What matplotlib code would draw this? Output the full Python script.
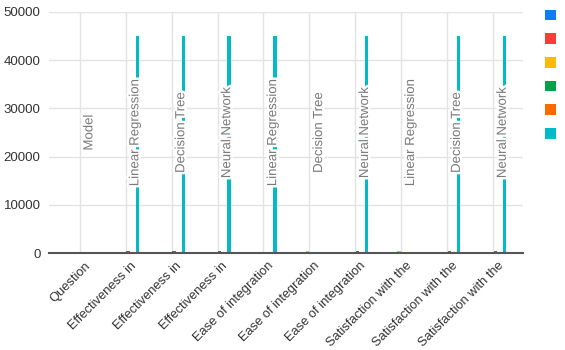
import matplotlib
matplotlib.use("Agg")
import matplotlib.pyplot as plt
import matplotlib.patheffects as pe
from matplotlib.patches import Patch
import numpy as np

plt.rcParams["font.family"] = ["Liberation Sans", "DejaVu Sans"]

# ── Data ─────────────────────────────────────────────────────
categories = [
    "Question",
    "Effectiveness in", "Effectiveness in", "Effectiveness in",
    "Ease of integration", "Ease of integration", "Ease of integration",
    "Satisfaction with the", "Satisfaction with the", "Satisfaction with the",
]
models = [
    "Model",
    "Linear Regression", "Decision Tree", "Neural Network",
    "Linear Regression", "Decision Tree", "Neural Network",
    "Linear Regression", "Decision Tree", "Neural Network",
]
blue_vals = [0, 0, 0, 0, 0, 0, 0, 0, 0, 0]
red_vals = [0, 300, 300, 250, 300, 300, 300, 300, 300, 300]
yellow_vals = [0, 300, 300, 300, 200, 450, 300, 450, 300, 300]
green_vals = [0, 450, 450, 400, 300, 300, 400, 300, 450, 400]
orange_vals = [0, 250, 250, 250, 200, 200, 250, 200, 250, 250]
cyan_vals = [0, 45000, 45000, 45000, 45000, 0, 45000, 0, 45000, 45000]

series = [blue_vals, red_vals, yellow_vals, green_vals, orange_vals, cyan_vals]
colors = ["#0f7cf7", "#fb3d36", "#fdbb00", "#00a149", "#ff6a00", "#00bac8"]

# ── Figure ───────────────────────────────────────────────────
fig = plt.figure(figsize=(5.65, 3.5), dpi=100)
ax = fig.add_axes([0.0867, 0.277, 0.839, 0.689])

x = np.arange(len(categories))
step = 0.1
width = 0.07
for j, (vals, color) in enumerate(zip(series, colors)):
    ax.bar(x + (j - 2.5) * step, vals, width=width, color=color, zorder=2)

# model annotations over the cyan series
for i, label in enumerate(models):
    ax.text(
        x[i] + 2.5 * step - 0.04, 25000, label,
        rotation=90, ha="center", va="center",
        fontsize=9.5, color="#7a7a7a", zorder=3,
        path_effects=[pe.withStroke(linewidth=3.5, foreground="white")],
    )

ax.set_xlim(-0.67, 9.65)
ax.set_ylim(0, 50000)
ax.set_yticks(np.arange(0, 50001, 10000))
# major ticks carry the vertical gridlines, minor ticks carry the labels
ax.set_xticks(x)
ax.set_xticklabels([])
ax.set_xticks(x + 0.09, minor=True)
ax.set_xticklabels(categories, minor=True, rotation=45, ha="right",
                   rotation_mode="anchor", fontsize=9.3, color="#333333")
ax.tick_params(axis="y", labelsize=9.5, labelcolor="#333333", length=0, pad=6)
ax.tick_params(axis="x", which="both", length=0)
ax.tick_params(axis="x", which="minor", pad=5)

ax.grid(True, which="major", color="#e3e3e3", linewidth=1, zorder=0)
ax.set_axisbelow(True)
for side in ["top", "right", "left"]:
    ax.spines[side].set_visible(False)
ax.spines["bottom"].set_color("#555555")
ax.spines["bottom"].set_linewidth(1.5)
ax.spines["bottom"].set_zorder(4)

handles = [Patch(facecolor=c, edgecolor="none") for c in colors]
fig.legend(handles, [" "] * 6, loc="upper left", bbox_to_anchor=(0.952, 0.995),
           frameon=False, handlelength=0.8, handleheight=0.8,
           labelspacing=0.7, fontsize=10, handletextpad=0.2, borderpad=0)

fig.savefig("out.png", dpi=100)
